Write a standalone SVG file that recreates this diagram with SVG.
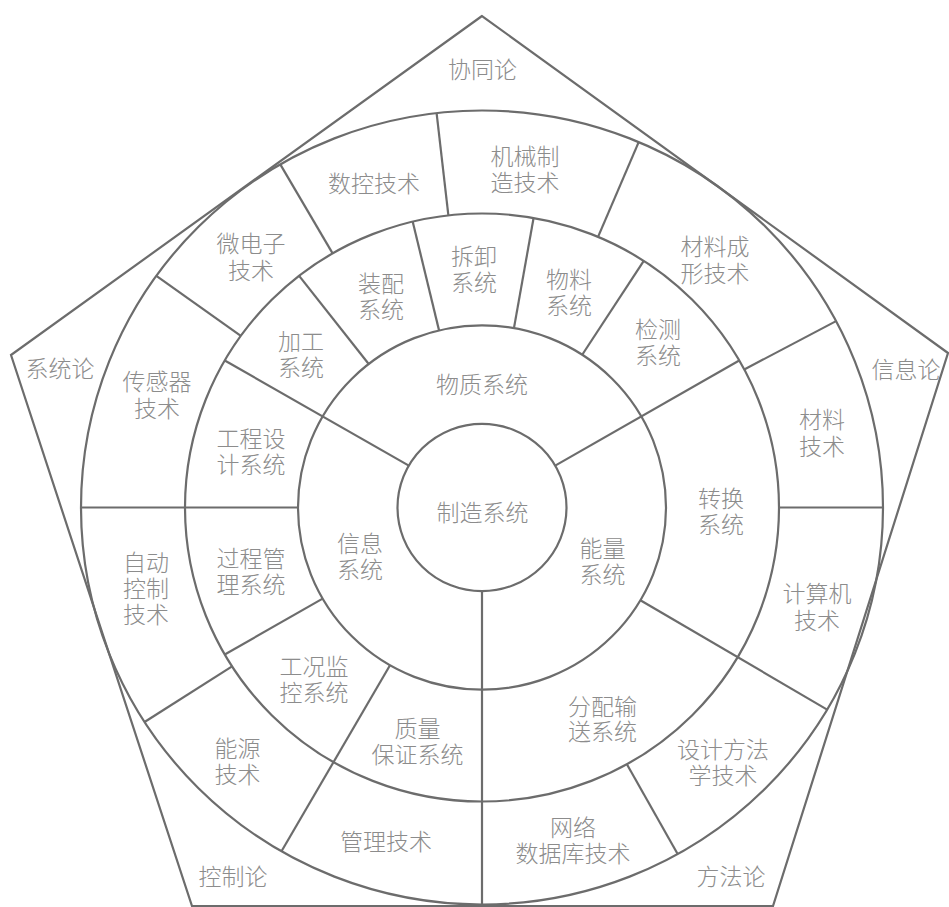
<svg xmlns="http://www.w3.org/2000/svg" width="949" height="907" viewBox="0 0 949 907">
<style>
.ln{fill:none;stroke:#6c6c6c;stroke-width:2.2}
.t{font-family:"Noto Sans CJK SC","Noto Sans CJK JP",sans-serif;font-size:23px;font-weight:300;fill:#8c8c8c;text-anchor:middle;dominant-baseline:central}
</style>
<rect width="949" height="907" fill="#ffffff"/>
<polygon class="ln" points="482,16 11,355 192,906 773,906 948,353"/>
<g transform="translate(482 507.5) scale(1 0.99)">
  <circle class="ln" r="401"/>
  <circle class="ln" r="297"/>
  <circle class="ln" r="184"/>
  <circle class="ln" r="84.5"/>
  <g id="connectors" class="ln">
    <line x1="84.5" x2="401" transform="rotate(90)"/>
    <line x1="84.5" x2="297" transform="rotate(210)"/>
    <line x1="84.5" x2="297" transform="rotate(330)"/>
    <line x1="297" x2="401" transform="rotate(332)"/>
    <line x1="184" x2="401" transform="rotate(30.6)"/>
    <line x1="184" x2="401" transform="rotate(120)"/>
    <line x1="184" x2="297" transform="rotate(150)"/>
    <line x1="297" x2="401" transform="rotate(147.3)"/>
    <line x1="184" x2="401" transform="rotate(180)"/>
    <line x1="184" x2="297" transform="rotate(232)"/>
    <line x1="184" x2="297" transform="rotate(256.5)"/>
    <line x1="184" x2="297" transform="rotate(280)"/>
    <line x1="184" x2="297" transform="rotate(303)"/>
    <line x1="297" x2="401" transform="rotate(215.7)"/>
    <line x1="297" x2="401" transform="rotate(239.8)"/>
    <line x1="297" x2="401" transform="rotate(263.5)"/>
    <line x1="297" x2="401" transform="rotate(293)"/>
    <line x1="297" x2="401" transform="rotate(0)"/>
    <line x1="297" x2="401" transform="rotate(60.8)"/>
  </g>
</g>
<g class="t">
  <g id="xietonglun"><text x="482.5" y="68">协同论</text></g>
  <g id="xitonglun"><text x="60" y="367">系统论</text></g>
  <g id="xinxilun"><text x="906" y="368">信息论</text></g>
  <g id="kongzhilun"><text x="233" y="875">控制论</text></g>
  <g id="fangfalun"><text x="731" y="875">方法论</text></g>
  <g id="zhizao"><text x="482.5" y="511">制造系统</text></g>
  <g id="wuzhi"><text x="482" y="383">物质系统</text></g>
  <g id="xinxi"><text x="360" y="542">信息<tspan x="360" dy="26">系统</tspan></text></g>
  <g id="nengliang"><text x="602.5" y="547">能量<tspan x="602.5" dy="25.5">系统</tspan></text></g>
  <g id="jiagong"><text x="301" y="340">加工<tspan x="301" dy="25.5">系统</tspan></text></g>
  <g id="zhuangpei"><text x="381" y="282">装配<tspan x="381" dy="25.5">系统</tspan></text></g>
  <g id="chaixie"><text x="474" y="255">拆卸<tspan x="474" dy="25.5">系统</tspan></text></g>
  <g id="wuliao"><text x="569" y="278">物料<tspan x="569" dy="25.5">系统</tspan></text></g>
  <g id="jiance"><text x="658" y="328">检测<tspan x="658" dy="25.5">系统</tspan></text></g>
  <g id="zhuanhuan"><text x="721" y="497">转换<tspan x="721" dy="25.5">系统</tspan></text></g>
  <g id="fenpei"><text x="602.5" y="704.5">分配输<tspan x="602.5" dy="25">送系统</tspan></text></g>
  <g id="zhiliang"><text x="417.5" y="727">质量<tspan x="417.5" dy="25.5">保证系统</tspan></text></g>
  <g id="gongkuang"><text x="314" y="665">工况监<tspan x="314" dy="25.5">控系统</tspan></text></g>
  <g id="guocheng"><text x="251" y="557">过程管<tspan x="251" dy="25.5">理系统</tspan></text></g>
  <g id="gongcheng"><text x="251" y="437">工程设<tspan x="251" dy="25.5">计系统</tspan></text></g>
  <g id="shukong"><text x="374" y="182">数控技术</text></g>
  <g id="jixie"><text x="525" y="155">机械制<tspan x="525" dy="25.5">造技术</tspan></text></g>
  <g id="weidianzi"><text x="251" y="242">微电子<tspan x="251" dy="26.5">技术</tspan></text></g>
  <g id="cailiaochengxing"><text x="715" y="245">材料成<tspan x="715" dy="26.5">形技术</tspan></text></g>
  <g id="chuanganqi"><text x="157" y="380">传感器<tspan x="157" dy="26.5">技术</tspan></text></g>
  <g id="cailiao"><text x="822" y="418">材料<tspan x="822" dy="26.5">技术</tspan></text></g>
  <g id="jisuanji"><text x="817" y="592">计算机<tspan x="817" dy="26.5">技术</tspan></text></g>
  <g id="zidong"><text x="146" y="561">自动<tspan x="146" dy="26">控制</tspan><tspan x="146" dy="26">技术</tspan></text></g>
  <g id="nengyuan"><text x="237.5" y="747">能源<tspan x="237.5" dy="25.5">技术</tspan></text></g>
  <g id="sheji"><text x="723" y="748">设计方法<tspan x="723" dy="25.5">学技术</tspan></text></g>
  <g id="guanli"><text x="386" y="840">管理技术</text></g>
  <g id="wangluo"><text x="573" y="826">网络<tspan x="573" dy="26">数据库技术</tspan></text></g>
</g>
</svg>
